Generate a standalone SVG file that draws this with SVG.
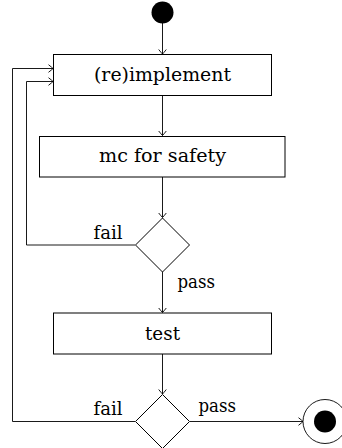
<svg xmlns="http://www.w3.org/2000/svg" width="342" height="448" viewBox="0 0 342 448">
<style>
.box{fill:#fff;stroke:#000;stroke-width:1}
.line{fill:none;stroke:#000;stroke-width:0.9}
.t{font-family:'DejaVu Serif','Liberation Serif','Times New Roman',serif;font-size:19px;fill:#000}
.c{text-anchor:middle}
</style>
<defs>
<marker id="arr" markerUnits="userSpaceOnUse" viewBox="-6 -5 8 10" refX="0" refY="0" markerWidth="8" markerHeight="10" orient="auto">
<path d="M -4.5 -3.8 Q -1.2 -1.2 0 0 Q -1.2 1.2 -4.5 3.8" fill="none" stroke="#000" stroke-width="0.9"/>
</marker>
</defs>
<g id="connectors">
<path class="line" d="M162.5 23 V54" marker-end="url(#arr)"/>
<path class="line" d="M162.5 95.5 V135.5" marker-end="url(#arr)"/>
<path class="line" d="M162.5 177 V217.5" marker-end="url(#arr)"/>
<path class="line" d="M135 245 H26.5 V81.5 H53" marker-end="url(#arr)"/>
<path class="line" d="M162.5 272 V312.5" marker-end="url(#arr)"/>
<path class="line" d="M162.5 354 V394" marker-end="url(#arr)"/>
<path class="line" d="M135 421.5 H12.5 V68.5 H53" marker-end="url(#arr)"/>
<path class="line" d="M190 421.5 H303" marker-end="url(#arr)"/>
<text class="t" x="122.5" y="238.5" text-anchor="end" textLength="29" lengthAdjust="spacingAndGlyphs">fail</text>
<text class="t" x="177.5" y="288" textLength="37.5" lengthAdjust="spacingAndGlyphs">pass</text>
<text class="t" x="122.5" y="415" text-anchor="end" textLength="29" lengthAdjust="spacingAndGlyphs">fail</text>
<text class="t" x="198.5" y="412" textLength="37.5" lengthAdjust="spacingAndGlyphs">pass</text>
</g>
<g id="start"><circle cx="162.5" cy="12.5" r="11" fill="#000"/></g>
<g id="implement">
<rect class="box" x="53.5" y="54.5" width="218" height="41"/>
<text class="t c" x="162.5" y="81" textLength="137" lengthAdjust="spacingAndGlyphs">(re)implement</text>
</g>
<g id="mc">
<rect class="box" x="39.5" y="136.5" width="245.5" height="40.5"/>
<text class="t c" x="162.5" y="162" textLength="127" lengthAdjust="spacingAndGlyphs">mc for safety</text>
</g>
<g id="decision1"><path class="box" d="M162.5 218 L189.5 245 L162.5 272 L135.5 245 Z"/></g>
<g id="test">
<rect class="box" x="53.5" y="313" width="218" height="41"/>
<text class="t c" x="162.5" y="340" textLength="35" lengthAdjust="spacingAndGlyphs">test</text>
</g>
<g id="decision2"><path class="box" d="M162.5 394.5 L189.5 421.5 L162.5 448.5 L135.5 421.5 Z"/></g>
<g id="end">
<circle cx="325" cy="421.5" r="22" fill="#fff" stroke="#000" stroke-width="0.9"/>
<circle cx="325" cy="421.5" r="11" fill="#000"/>
</g>
</svg>
